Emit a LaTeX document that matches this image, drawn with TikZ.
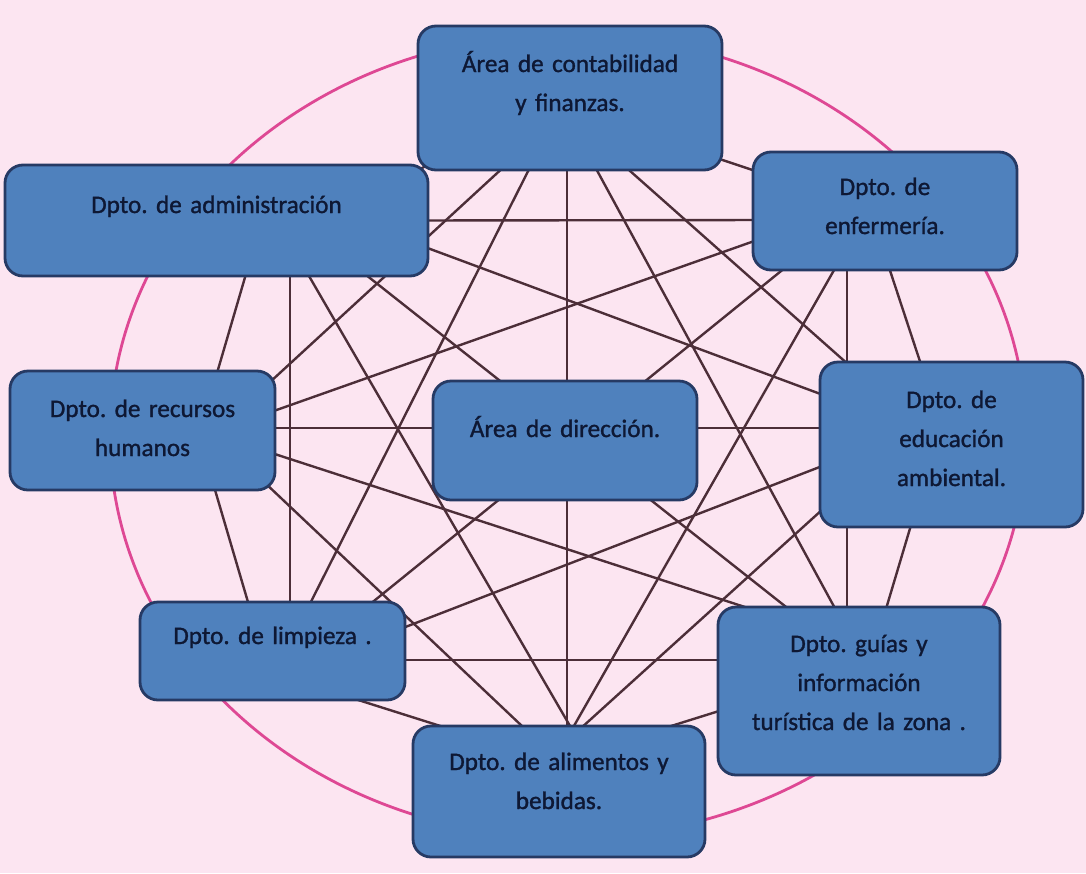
\documentclass[tikz,border=0pt]{standalone}
\usepackage{fontspec}
\setmainfont{Carlito}
\newfontfamily\deptfont{Carlito}[FakeBold=1.2]
\usetikzlibrary{backgrounds}

\definecolor{bgpink}{RGB}{252,229,241}
\definecolor{ringpink}{RGB}{222,72,148}
\definecolor{boxblue}{RGB}{79,129,189}
\definecolor{boxedge}{RGB}{38,58,100}
\definecolor{textnavy}{RGB}{14,24,52}
\definecolor{linkbrown}{RGB}{76,46,56}

\begin{document}
\frenchspacing
\begin{tikzpicture}[x=0.5pt, y=-0.5pt,
  dept/.style={draw=boxedge, line width=1.4pt, fill=boxblue, rounded corners=9pt,
    inner sep=0pt, align=center, text=textnavy, font=\deptfont\fontsize{12.6}{19.5}\selectfont},
  link/.style={draw=linkbrown, line width=1.2pt}]

\node[dept, text width=152pt, text height=23pt, text depth=49pt] (cont) at (570,98) {Área de contabilidad\\y finanzas.};
\node[dept, text width=211.5pt, text height=24pt, text depth=31.5pt] (admin) at (216.5,220.5) {Dpto. de administración};
\node[dept, text width=132pt, text height=21.5pt, text depth=37.5pt] (enf) at (885,211) {Dpto. de\\enfermería.};
\node[dept, text width=132.5pt, text height=23pt, text depth=36.5pt] (rrhh) at (142.5,430.5) {Dpto. de recursos\\humanos};
\node[dept, text width=132pt, text height=28pt, text depth=31.5pt] (dir) at (565,440.5) {Área de dirección.};
\node[dept, text width=131.5pt, text height=23pt, text depth=59.5pt] (edu) at (951.5,444.5) {Dpto. de\\educación\\ambiental.};
\node[dept, text width=132.5pt, text height=21pt, text depth=28pt] (limp) at (272.5,651) {Dpto. de limpieza .};
\node[dept, text width=141pt, text height=22.5pt, text depth=61.5pt] (guias) at (859,691) {Dpto. guías y\\información\\turística de la zona .};
\node[dept, text width=146pt, text height=22pt, text depth=43.5pt] (alim) at (559,791.5) {Dpto. de alimentos y\\bebidas.};

\begin{scope}[on background layer]
\fill[bgpink] (0,0) rectangle (1086,873);
\draw[ringpink, line width=1.4pt] (568,436) ellipse [x radius=458, y radius=402];

% contabilidad
\draw[link] (cont.south west) -- (admin.north east);
\draw[link] ([shift={(-22,55)}]cont.east) -- ([shift={(22,-34)}]enf.west);
\draw[link] ([shift={(-58,-12)}]cont.south) -- ([shift={(-7,13)}]rrhh.north east);
\draw[link] ([shift={(47,-12)}]cont.south) -- ([shift={(40,13)}]edu.north west);
\draw[link] ([shift={(-36,-12)}]cont.south) -- ([shift={(33,12)}]limp.north);
\draw[link] ([shift={(21,-12)}]cont.south) -- ([shift={(-19,12)}]guias.north);
\draw[link] ([shift={(-3,-12)}]cont.south) -- ([shift={(8,12)}]alim.north);
% administracion
\draw[link] ([shift={(-15,0)}]admin.east) -- ([shift={(15,9)}]enf.west);
\draw[link] ([shift={(32,-12)}]admin.south) -- ([shift={(72,12)}]rrhh.north);
\draw[link] ([shift={(-14,23)}]admin.east) -- ([shift={(14,-46)}]edu.west);
\draw[link] ([shift={(73.5,-12)}]admin.south) -- ([shift={(17.5,12)}]limp.north);
\draw[link] ([shift={(140,-10)}]admin.south) -- ([shift={(-62,10)}]guias.north);
\draw[link] ([shift={(87.5,-10)}]admin.south) -- ([shift={(16,10)}]alim.north);
% enfermeria
\draw[link] ([shift={(14,26)}]enf.west) -- ([shift={(-14,-15.5)}]rrhh.east);
\draw[link] ([shift={(2,-10)}]enf.south) -- ([shift={(-28.5,10)}]edu.north);
\draw[link] ([shift={(-97,-6)}]enf.south) -- ([shift={(94.5,6)}]limp.north);
\draw[link] ([shift={(-38,-10)}]enf.south) -- ([shift={(-12,10)}]guias.north);
\draw[link] ([shift={(-46,-10)}]enf.south) -- ([shift={(10,10)}]alim.north);
% recursos humanos
\draw[link] ([shift={(-14,-2.5)}]rrhh.east) -- ([shift={(14,-16.5)}]edu.west);
\draw[link] ([shift={(70,-10)}]rrhh.south) -- ([shift={(-22,10)}]limp.north);
\draw[link] ([shift={(-14,19.5)}]rrhh.east) -- ([shift={(-100,6)}]guias.north);
\draw[link] ([shift={(-13,-10)}]rrhh.south east) -- ([shift={(-29,9)}]alim.north);
% limpieza
\draw[link] ([shift={(-14,-19)}]limp.east) -- ([shift={(14,17.5)}]edu.west);
\draw[link] ([shift={(-14,9)}]limp.east) -- ([shift={(14,-31)}]guias.west);
\draw[link] ([shift={(77.5,-4)}]limp.south) -- ([shift={(37,4)}]alim.north west);
% guias, educacion
\draw[link] ([shift={(12,17)}]guias.west) -- ([shift={(-50,6)}]alim.north east);
\draw[link] ([shift={(11,58.5)}]edu.west) -- ([shift={(17,8)}]alim.north);
\draw[link] ([shift={(-38.5,-10)}]edu.south) -- ([shift={(25,10)}]guias.north);
\end{scope}
\end{tikzpicture}
\end{document}
